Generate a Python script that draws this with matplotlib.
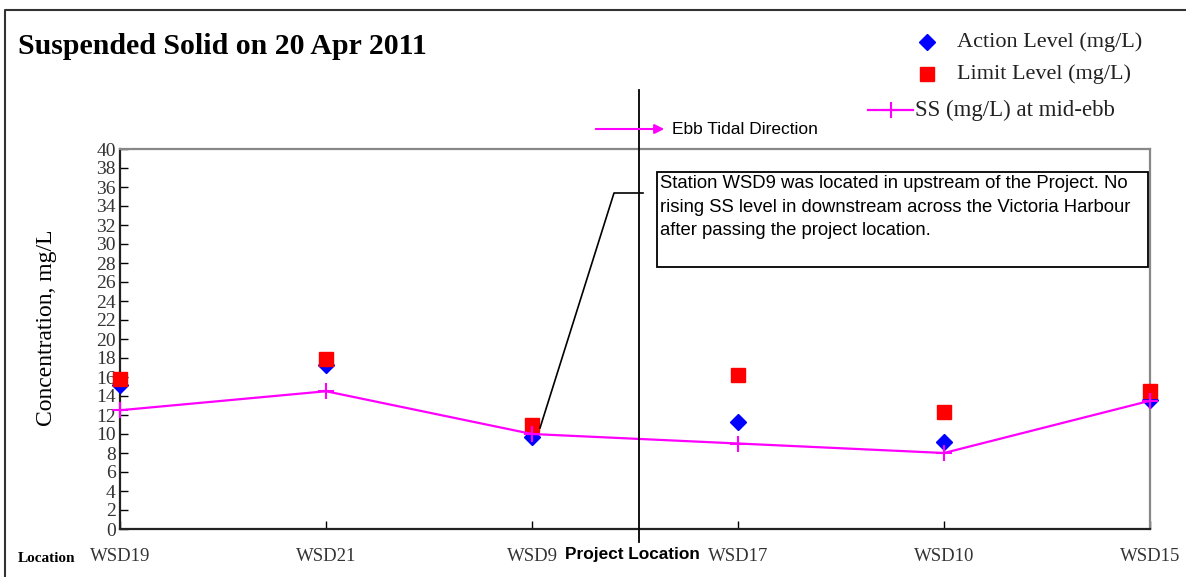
import matplotlib; matplotlib.use("Agg")
import matplotlib.pyplot as plt
from matplotlib.patches import Rectangle

stations = ["WSD19", "WSD21", "WSD9", "WSD17", "WSD10", "WSD15"]
action = [15.2, 17.3, 9.7, 11.3, 9.2, 13.6]
limit = [15.8, 17.9, 10.9, 16.2, 12.3, 14.5]
ss = [12.5, 14.5, 10.0, 9.0, 8.0, 13.5]
yticks = list(range(0, 41, 2))

W, H = 1186, 577
serif = "Liberation Serif"
sans = "Liberation Sans"
fig = plt.figure(figsize=(W / 100, H / 100), dpi=100)
ax = fig.add_axes([120 / W, 1 - 529 / H, (1150 - 120) / W, (529 - 149) / H])
x = list(range(len(stations)))
ax.plot(x, action, ls="none", marker="D", ms=8, color="#0000FF", clip_on=False, zorder=3)
ax.plot(x, limit, ls="none", marker="s", ms=10, color="#FF0000", clip_on=False, zorder=3)
ax.plot(x, ss, color="#FF00FF", lw=1.6, marker="+", ms=11, mew=1.5, clip_on=False, zorder=4)
ax.set_xlim(0, 5); ax.set_ylim(0, 40)
ax.set_yticks(yticks); ax.set_yticklabels([str(v) for v in yticks], family=serif, fontsize=14, color="#333")
ax.set_xticks(x); ax.set_xticklabels(stations, family=serif, fontsize=13.5, color="#333")
ax.tick_params(axis="y", direction="in", length=6, width=1, pad=3)
ax.tick_params(axis="x", direction="in", length=6, width=1, pad=14)
for s in ["left", "bottom"]:
    ax.spines[s].set_linewidth(1.6); ax.spines[s].set_color("#222")
for s in ["top", "right"]:
    ax.spines[s].set_linewidth(1.6); ax.spines[s].set_color("#888")
ax.set_ylabel("Concentration, mg/L", family=serif, fontsize=17)
ax.yaxis.set_label_coords((57 - 120) / 1030, (529 - 328) / 380)

# overlay in pixel coordinates for annotations
ov = fig.add_axes([0, 0, 1, 1], zorder=5)
ov.set_xlim(0, W); ov.set_ylim(H, 0); ov.axis("off")
ov.plot([5, 5, W], [H, 10, 10], color="#333", lw=1.5)
ov.text(18, 47, "Suspended Solid on 20 Apr 2011", family=serif, fontweight="bold", fontsize=21.5, va="center")
# legend
ov.plot([927], [42], marker="D", ms=8, color="#0000FF")
ov.text(957, 42, "Action Level (mg/L)", family=serif, fontsize=16, va="center", color="#222")
ov.plot([927], [74], marker="s", ms=10, color="#FF0000")
ov.text(957, 74, "Limit Level (mg/L)", family=serif, fontsize=16, va="center", color="#222")
ov.plot([868, 913], [110, 110], color="#FF00FF", lw=1.6)
ov.plot([891], [110], marker="+", ms=11, mew=1.5, color="#FF00FF")
ov.text(915, 110, "SS (mg/L) at mid-ebb", family=serif, fontsize=16.5, va="center", color="#222")
# project location line and ebb arrow
ov.plot([639, 639], [90, 542], color="black", lw=1.3)
ov.annotate("", xy=(667, 129), xytext=(593, 129),
            arrowprops=dict(arrowstyle="-|>", color="#FF00FF", lw=1.5, mutation_scale=14))
ov.text(672, 129, "Ebb Tidal Direction", family=sans, fontsize=12.5, va="center")
ov.text(565, 555, "Project Location", family=sans, fontweight="bold", fontsize=12.4, va="center")
ov.text(18, 559, "Location", family=serif, fontweight="bold", fontsize=11, va="center")
# callout
ov.plot([540, 614, 643], [428, 193, 193], color="black", lw=1.2)
ov.add_patch(Rectangle((657, 172), 491, 95, fill=False, ec="black", lw=1.3))
ov.text(660, 175, "Station WSD9 was located in upstream of the Project. No\n"
        "rising SS level in downstream across the Victoria Harbour\n"
        "after passing the project location.", family=sans, fontsize=13.3,
        va="top", ha="left", linespacing=1.5)

fig.savefig("out.png", dpi=100)
